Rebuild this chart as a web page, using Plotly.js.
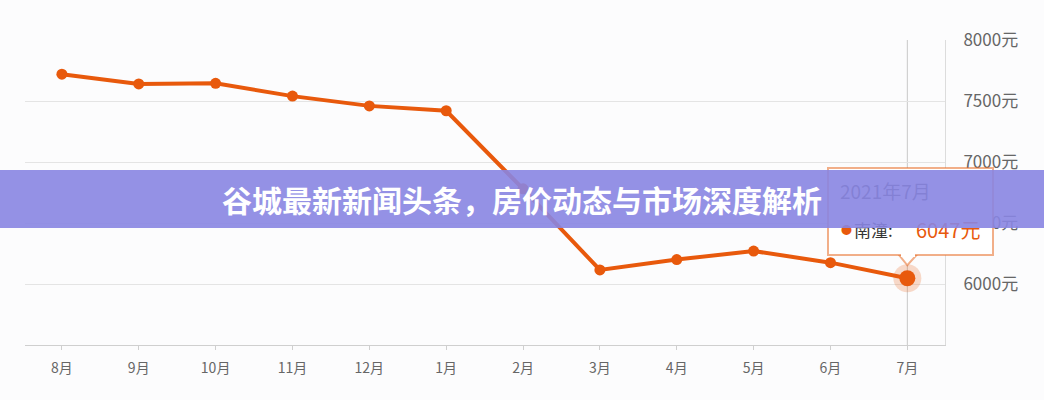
<!DOCTYPE html>
<html>
<head>
<meta charset="utf-8">
<script src="https://cdn.plot.ly/plotly-3.0.1.min.js"></script>
<style>html,body{margin:0;padding:0;background:#fcfcfd;}#chart{width:1044px;height:400px;}</style>
</head>
<body>
<div id="chart"></div>
<script>
const months = ["8月","9月","10月","11月","12月","1月","2月","3月","4月","5月","6月","7月"];
const prices = [7720, 7640, 7645, 7540, 7460, 7420, 6780, 6115, 6200, 6270, 6175, 6047];
const yTicks = [6000, 6500, 7000, 7500, 8000];
const yTickText = ["6000元","6500元","7000元","7500元","8000元"];
const seriesName = "南潼";
const tooltipTitle = "2021年7月";
const bannerText = "谷城最新新闻头条，房价动态与市场深度解析";

const orange = "#e8590c";
const font = "Noto Sans CJK SC, Noto Sans, sans-serif";
const last = months.length - 1;
const lastX = months[last], lastY = prices[last];

const traces = [
  {
    x: months, y: prices, type: "scatter", mode: "lines+markers",
    line: {color: orange, width: 4},
    marker: {color: orange, size: 11},
    hoverinfo: "skip"
  },
  {
    x: [lastX], y: [lastY], type: "scatter", mode: "markers",
    marker: {color: "rgba(232,89,12,0.22)", size: 28},
    hoverinfo: "skip"
  },
  {
    x: [lastX], y: [lastY], type: "scatter", mode: "markers",
    marker: {color: orange, size: 16},
    hoverinfo: "skip"
  }
];

function anchored(extra) {
  return Object.assign({xref: "x", yref: "y", x: lastX, y: lastY, showarrow: false}, extra);
}

const layout = {
  width: 1044, height: 400,
  margin: {l: 25, r: 99, t: 40, b: 55},
  paper_bgcolor: "#fcfcfd", plot_bgcolor: "#fcfcfd",
  showlegend: false,
  font: {family: font, color: "#666"},
  xaxis: {
    type: "category", range: [-0.48, 11.49],
    showgrid: false, zeroline: false,
    showline: true, linecolor: "#cfcfcf", linewidth: 1,
    ticks: "outside", ticklen: 4, tickcolor: "#cfcfcf",
    tickfont: {size: 14, color: "#666", family: font},
    ticklabelstandoff: 6
  },
  yaxis: {
    side: "right", range: [5500, 8000],
    tickvals: yTicks, ticktext: yTickText,
    showgrid: true, gridcolor: "#e4e4e4", gridwidth: 1,
    zeroline: false, showline: true, linecolor: "#dcdcdc",
    ticks: "", tickfont: {size: 17, color: "#666", family: font},
    ticklabelstandoff: 14
  },
  shapes: [
    {type: "line", xref: "x", yref: "paper", x0: lastX, x1: lastX, y0: 0, y1: 1,
     line: {color: "#c8c8c8", width: 1}, layer: "below"},
    {type: "path", xref: "x", yref: "y", xsizemode: "pixel", ysizemode: "pixel",
     xanchor: lastX, yanchor: lastY,
     path: "M -8,23 L 0,13 L 9,23 Z",
     fillcolor: "#ffffff", line: {color: "rgba(232,110,40,0.55)", width: 2}, layer: "above"}
  ],
  annotations: [
    anchored({xshift: 3.5, yshift: 66.5, xanchor: "center", yanchor: "middle",
      text: " ", width: 163, height: 85, bgcolor: "#ffffff",
      bordercolor: "rgba(232,110,40,0.55)", borderwidth: 2, borderpad: 0}),
    anchored({xshift: 0.5, yshift: 22.5, xanchor: "center", yanchor: "middle",
      text: " ", width: 14, height: 3, bgcolor: "#ffffff", borderpad: 0, borderwidth: 0,
      font: {size: 2}}),
    anchored({xshift: -69, yshift: 88, xanchor: "left", yanchor: "middle", text: tooltipTitle,
      font: {size: 19, color: "#555", family: font}}),
    anchored({xshift: -68, yshift: 49, xanchor: "left", yanchor: "middle", text: "●",
      font: {size: 11, color: orange, family: font}}),
    anchored({xshift: -55, yshift: 49, xanchor: "left", yanchor: "middle", text: seriesName + ":",
      font: {size: 17, color: "#333", family: font}}),
    anchored({xshift: 7, yshift: 49, xanchor: "left", yanchor: "middle", text: lastY + "元",
      font: {size: 20, color: orange, family: font}}),
    {xref: "paper", yref: "paper", x: (522 - 25) / 920, y: (345 - 199) / 305,
     xanchor: "center", yanchor: "middle", showarrow: false,
     text: "<b>" + bannerText + "</b>", width: 1060, height: 58,
     bgcolor: "rgba(136,133,226,0.9)", borderpad: 0, borderwidth: 0,
     font: {size: 30, color: "#ffffff", family: font}}
  ]
};

Plotly.newPlot("chart", traces, layout, {displayModeBar: false, staticPlot: true});
</script>
</body>
</html>
